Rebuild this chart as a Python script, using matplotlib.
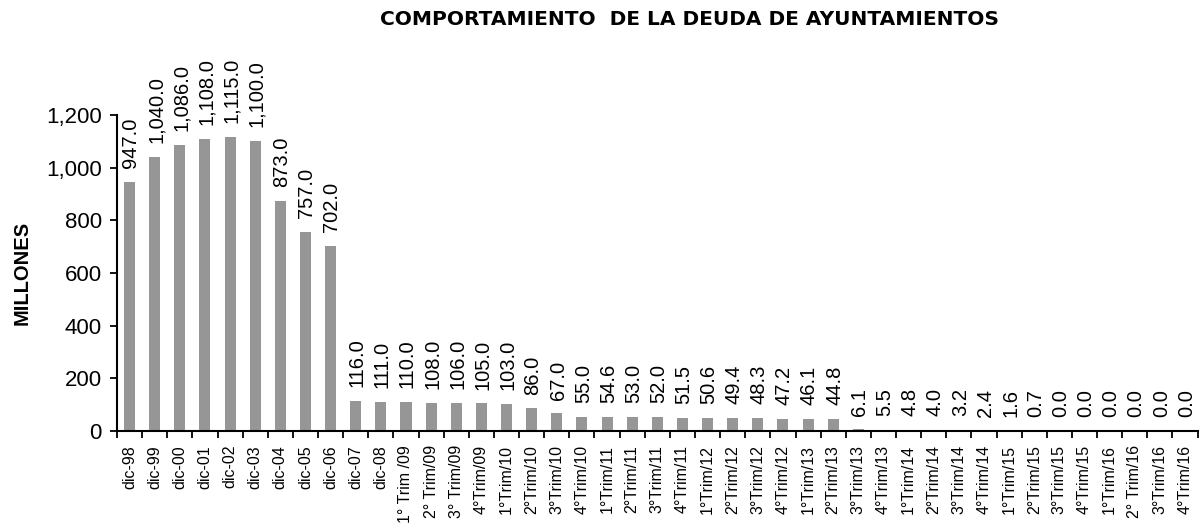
import matplotlib.pyplot as plt
import numpy as np

plt.rcParams['font.family'] = ['Liberation Sans', 'DejaVu Sans']

periods = ['dic-98', 'dic-99', 'dic-00', 'dic-01', 'dic-02', 'dic-03', 'dic-04',
           'dic-05', 'dic-06', 'dic-07', 'dic-08',
           '1° Trim /09', '2° Trim/09', '3° Trim/09', '4°Trim/09',
           '1°Trim/10', '2°Trim/10', '3°Trim/10', '4°Trim/10',
           '1°Trim/11', '2°Trim/11', '3°Trim/11', '4°Trim/11',
           '1°Trim/12', '2°Trim/12', '3°Trim/12', '4°Trim/12',
           '1°Trim/13', '2°Trim/13', '3°Trim/13', '4°Trim/13',
           '1°Trim/14', '2°Trim/14', '3°Trim/14', '4°Trim/14',
           '1°Trim/15', '2°Trim/15', '3°Trim/15', '4°Trim/15',
           '1°Trim/16', '2° Trim/16', '3°Trim/16', '4°Trim/16']

deuda = [947.0, 1040.0, 1086.0, 1108.0, 1115.0, 1100.0, 873.0, 757.0, 702.0,
         116.0, 111.0, 110.0, 108.0, 106.0, 105.0, 103.0, 86.0, 67.0, 55.0,
         54.6, 53.0, 52.0, 51.5, 50.6, 49.4, 48.3, 47.2, 46.1, 44.8,
         6.1, 5.5, 4.8, 4.0, 3.2, 2.4, 1.6, 0.7, 0.0, 0.0, 0.0, 0.0, 0.0, 0.0]

fig = plt.figure(figsize=(12, 5.27), dpi=100)
ax = fig.add_axes([0.0975, 0.182, 0.9005, 0.6])

x = np.arange(len(periods))
ax.bar(x, deuda, width=0.44, color='#969696')

# etiquetas de valor, verticales encima de cada barra
for xi, v in zip(x, deuda):
    ax.annotate(f'{v:,.1f}', (xi, v), xytext=(1, 10), textcoords='offset points',
                rotation=90, ha='center', va='bottom', fontsize=14.5)

ax.set_xlim(-0.5, len(periods) - 0.5)
ax.set_ylim(0, 1200)
ax.set_yticks(range(0, 1201, 200))
ax.set_yticklabels([f'{t:,}' for t in range(0, 1201, 200)], fontsize=16)

ax.set_xticks(x)
ax.set_xticklabels(periods, rotation=90, fontsize=11.5)
ax.tick_params(axis='x', which='major', length=0, pad=10)
ax.set_xticks(np.arange(-0.5, len(periods), 1), minor=True)
ax.tick_params(axis='x', which='minor', length=5, width=1.3, direction='out')
ax.tick_params(axis='y', length=5, width=1.3, direction='out', pad=6)

for s in ['top', 'right']:
    ax.spines[s].set_visible(False)
for s in ['left', 'bottom']:
    ax.spines[s].set_linewidth(1.5)

ax.set_ylabel('MILLONES', fontsize=14.5, fontweight='bold', labelpad=10)
fig.text(0.575, 0.963, 'COMPORTAMIENTO  DE LA DEUDA DE AYUNTAMIENTOS',
         ha='center', va='center', fontsize=14.5, fontweight='bold',
         family='DejaVu Sans')

fig.savefig('out.png', dpi=100)
